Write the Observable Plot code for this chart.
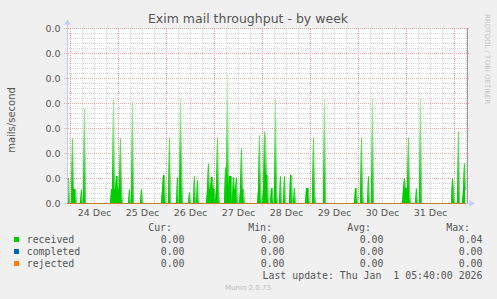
<!DOCTYPE html>
<html>
<head>
<meta charset="utf-8">
<script src="https://cdn.jsdelivr.net/npm/d3@7"></script>
<script src="https://cdn.jsdelivr.net/npm/@observablehq/plot@0.6"></script>
<style>
  html, body { margin: 0; padding: 0; background: #f0f0f0; }
  #chart { width: 497px; height: 299px; }
</style>
</head>
<body>
<div id="chart"></div>
<script>
// ---- data (30-minute samples, mails/second) ----
const runStarts = [
  "2025-12-23T22:30Z", "2025-12-24T01:00Z", "2025-12-24T05:30Z", "2025-12-24T07:00Z",
  "2025-12-24T20:30Z", "2025-12-25T05:30Z", "2025-12-25T07:00Z", "2025-12-25T11:30Z",
  "2025-12-25T22:00Z", "2025-12-26T01:30Z", "2025-12-26T05:30Z", "2025-12-26T07:00Z",
  "2025-12-26T11:30Z", "2025-12-26T14:00Z", "2025-12-26T15:30Z", "2025-12-26T20:30Z",
  "2025-12-27T01:00Z", "2025-12-27T05:30Z", "2025-12-27T09:30Z", "2025-12-27T13:00Z",
  "2025-12-27T22:00Z", "2025-12-28T00:30Z", "2025-12-28T04:30Z", "2025-12-28T06:30Z",
  "2025-12-28T09:00Z", "2025-12-28T11:00Z", "2025-12-28T14:00Z", "2025-12-28T16:00Z",
  "2025-12-28T22:00Z", "2025-12-29T01:30Z", "2025-12-29T07:00Z", "2025-12-29T22:30Z",
  "2025-12-30T01:30Z", "2025-12-30T05:00Z", "2025-12-30T07:00Z", "2025-12-30T22:30Z",
  "2025-12-31T05:00Z", "2025-12-31T07:00Z", "2025-12-31T23:00Z", "2026-01-01T02:00Z",
  "2026-01-01T04:30Z"
];
const runValues = [
  [0.005, 0.005], [0.013, 0.0028, 0.0028, 0.0028], [0.0028], [0.019],
  [0.0028, 0.0028, 0.021, 0.0028, 0.0028, 0.0054, 0.0054, 0.0028, 0.0028, 0.013, 0.0028],
  [0.0028], [0.0204], [0.0028],
  [0.0028, 0.0056, 0.0056], [0.0132], [0.0052], [0.021, 0.009],
  [0.0022], [0.0054], [0.0046],
  [0.0028, 0.008, 0.0028, 0.0028, 0.0052, 0.0052, 0.0028, 0.0028],
  [0.0028, 0.0132, 0.0028], [0.0072, 0.0028, 0.026, 0.0028, 0.0054, 0.0054, 0.0054],
  [0.0052, 0.0028, 0.0028, 0.0052], [0.0028, 0.011, 0.0028, 0.0028],
  [0.0028, 0.0136, 0.0028], [0.0028, 0.0144, 0.0136, 0.0056, 0.0056], [0.003, 0.003], [0.021, 0.0028],
  [0.0054], [0.0054], [0.0056, 0.0056], [0.003],
  [0.003, 0.003, 0.003], [0.0132, 0.0028], [0.0208], [0.003, 0.003],
  [0.0132, 0.0028], [0.0054], [0.021], [0.003, 0.005, 0.003, 0.003, 0.003, 0.0132, 0.0028],
  [0.003], [0.021], [0.005, 0.003], [0.0144],
  [0.0028, 0.008, 0.0028]
];
const firstSample = "2025-12-23T22:30Z";
const lastSample = "2026-01-01T05:30Z";
const completedValue = 0;
const rejectedValue = 0;

const yTicks = [0, 0.005, 0.01, 0.015, 0.02, 0.025, 0.03, 0.035];
const dayLabels = ["24 Dec", "25 Dec", "26 Dec", "27 Dec", "28 Dec", "29 Dec", "30 Dec", "31 Dec"];
const dayLabelDates = ["2025-12-24T12:00Z", "2025-12-25T12:00Z", "2025-12-26T12:00Z", "2025-12-27T12:00Z",
                       "2025-12-28T12:00Z", "2025-12-29T12:00Z", "2025-12-30T12:00Z", "2025-12-31T12:00Z"];

const seriesNames = ["received", "completed", "rejected"];
const seriesColors = ["#00cc00", "#0066b3", "#ff8000"];
const statHeads = ["Cur:", "Min:", "Avg:", "Max:"];
const statValues = [
  ["0.00", "0.00", "0.00", "0.04"],
  ["0.00", "0.00", "0.00", "0.00"],
  ["0.00", "0.00", "0.00", "0.00"]
];
const titleText = "Exim mail throughput - by week";
const yLabel = "mails/second";
const lastUpdate = "Last update: Thu Jan  1 05:40:00 2026";
const footer = "Munin 2.0.73";
const watermark = "RRDTOOL / TOBI OETIKER";

// ---- build table ----
const HOUR = 3600e3, STEP = HOUR / 2;
const vals = new Map();
runStarts.forEach((s, i) => {
  const b = Date.parse(s);
  runValues[i].forEach((v, j) => vals.set(b + j * STEP, v));
});
const rows = d3.range(Date.parse(firstSample), Date.parse(lastSample) + 1, STEP).map(t => ({
  t: new Date(t), received: vals.get(t) ?? 0, completed: completedValue, rejected: rejectedValue
}));

const xStart = Date.parse("2025-12-23T22:30Z");
const xEnd = Date.parse("2026-01-01T06:30Z");
const xMajor = d3.utcDay.range(new Date(xStart), new Date(xEnd));
const xMinor = d3.utcHour.every(6).range(new Date(xStart), new Date(xEnd)).filter(d => d.getUTCHours() !== 0);
const yMinor = d3.range(0, 36).map(i => i / 1000).filter(v => Math.round(v * 1000) % 5 !== 0);
const labelMap = new Map(dayLabelDates.map((d, i) => [Date.parse(d), dayLabels[i]]));

const minorC = "#d6d6d6", majorC = "#efaaaa", axisC = "#c4ccf6";

const plot = Plot.plot({
  width: 497, height: 299,
  marginLeft: 67, marginRight: 30, marginTop: 28, marginBottom: 96,
  style: { background: "#f0f0f0", fontFamily: "DejaVu Sans", fontSize: "9.5px", color: "#555" },
  x: { type: "utc", domain: [new Date(xStart), new Date(xEnd)] },
  y: { domain: [0, 0.035] },
  marks: [
    Plot.frame({ fill: "white", stroke: "none" }),
    Plot.ruleY(yMinor, { x1: () => new Date(xStart - HOUR), x2: () => new Date(xEnd + HOUR), stroke: minorC, strokeDasharray: "1,1" }),
    Plot.ruleX(xMinor, { y1: 0, y2: 0.035, stroke: minorC, strokeDasharray: "1,1" }),
    Plot.ruleY(yTicks, { x1: () => new Date(xStart - 1.5 * HOUR), x2: () => new Date(xEnd + HOUR), stroke: majorC, strokeDasharray: "1,1" }),
    Plot.ruleX(xMajor, { y1: -0.0006, y2: 0.035, stroke: majorC, strokeDasharray: "1,1" }),
    Plot.ruleY([0], { x1: () => new Date(xStart - 1.5 * HOUR), x2: () => new Date(xEnd + 1.5 * HOUR), stroke: axisC }),
    Plot.areaY(rows, { x: "t", y: "received", fill: "url(#gfade)", curve: "linear" }),
    Plot.lineY(rows, { x: "t", y: "received", stroke: "url(#gfade)", strokeWidth: 0.7, curve: "linear" }),
    Plot.lineY(rows, { x: "t", y: "completed", stroke: seriesColors[1], strokeWidth: 1 }),
    Plot.lineY(rows, { x: "t", y: "rejected", stroke: seriesColors[2], strokeWidth: 1 }),
    Plot.ruleX([0], { x: () => new Date(xStart), y1: 0, y2: 0.0362, stroke: axisC }),
    Plot.ruleX([0], { x: () => new Date(xEnd), y1: 0, y2: 0.035, stroke: "#9a9a9a" }),
    Plot.dot([0], { x: () => new Date(xStart), y: () => 0.0361, symbol: "triangle", r: 2.4, fill: axisC, stroke: "none" }),
    Plot.dot([0], { x: () => new Date(xEnd + 1.8 * HOUR), y: () => 0, symbol: "triangle", rotate: 90, r: 2.4, fill: axisC, stroke: "none" }),
    Plot.axisY(yTicks, { tickSize: 0, tickPadding: 7, tickFormat: d => d.toFixed(1), label: null, fill: "#555" }),
    Plot.axisX(dayLabelDates.map(d => new Date(d)), { tickSize: 0, tickPadding: 6, tickFormat: d => labelMap.get(+d), label: null, fill: "#555" })
  ]
});

const svg = d3.select(plot);
// vertical fade for thin spikes, placed with the y scale
const ys = plot.scale("y");
const grad = svg.insert("defs", ":first-child").append("linearGradient")
  .attr("id", "gfade").attr("gradientUnits", "userSpaceOnUse")
  .attr("x1", 0).attr("x2", 0)
  .attr("y1", ys.apply(0.0055)).attr("y2", ys.apply(0.027));
grad.append("stop").attr("offset", 0).attr("stop-color", seriesColors[0]);
grad.append("stop").attr("offset", 1).attr("stop-color", "#e4f9e4");

const txt = (x, y, s, opts = {}) => svg.append("text")
  .attr("x", x).attr("y", y).text(s)
  .attr("font-family", opts.family || "DejaVu Sans")
  .attr("font-size", opts.size || "10px")
  .attr("fill", opts.fill || "#555")
  .attr("text-anchor", opts.anchor || "start")
  .attr("transform", opts.transform || null)
  .style("white-space", "pre");

txt(248, 23, titleText, { size: "12.5px", anchor: "middle", fill: "#555" });
txt(0, 0, yLabel, { size: "10px", anchor: "middle", transform: "translate(15,120) rotate(-90)" });
txt(0, 0, watermark, { size: "7px", fill: "#c4c4c4", transform: "translate(485,14) rotate(90)" });

const mono = { family: "DejaVu Sans Mono", size: "9.9px" };
const headX = [172, 272, 371, 470];
const valX = [184.5, 284.5, 383.5, 482.5];
statHeads.forEach((h, i) => txt(headX[i], 231, h, { ...mono, anchor: "end" }));
seriesNames.forEach((n, r) => {
  const base = 243 + r * 12;
  svg.append("rect").attr("x", 14).attr("y", base - 6).attr("width", 5).attr("height", 5).attr("fill", seriesColors[r]);
  txt(26.7, base, n, mono);
  statValues[r].forEach((v, i) => txt(valX[i], base, v, { ...mono, anchor: "end" }));
});
txt(482.5, 279, lastUpdate, { ...mono, anchor: "end" });
txt(248, 290, footer, { size: "7px", fill: "#bdbdbd", anchor: "middle" });

document.getElementById("chart").appendChild(plot);
</script>
</body>
</html>
